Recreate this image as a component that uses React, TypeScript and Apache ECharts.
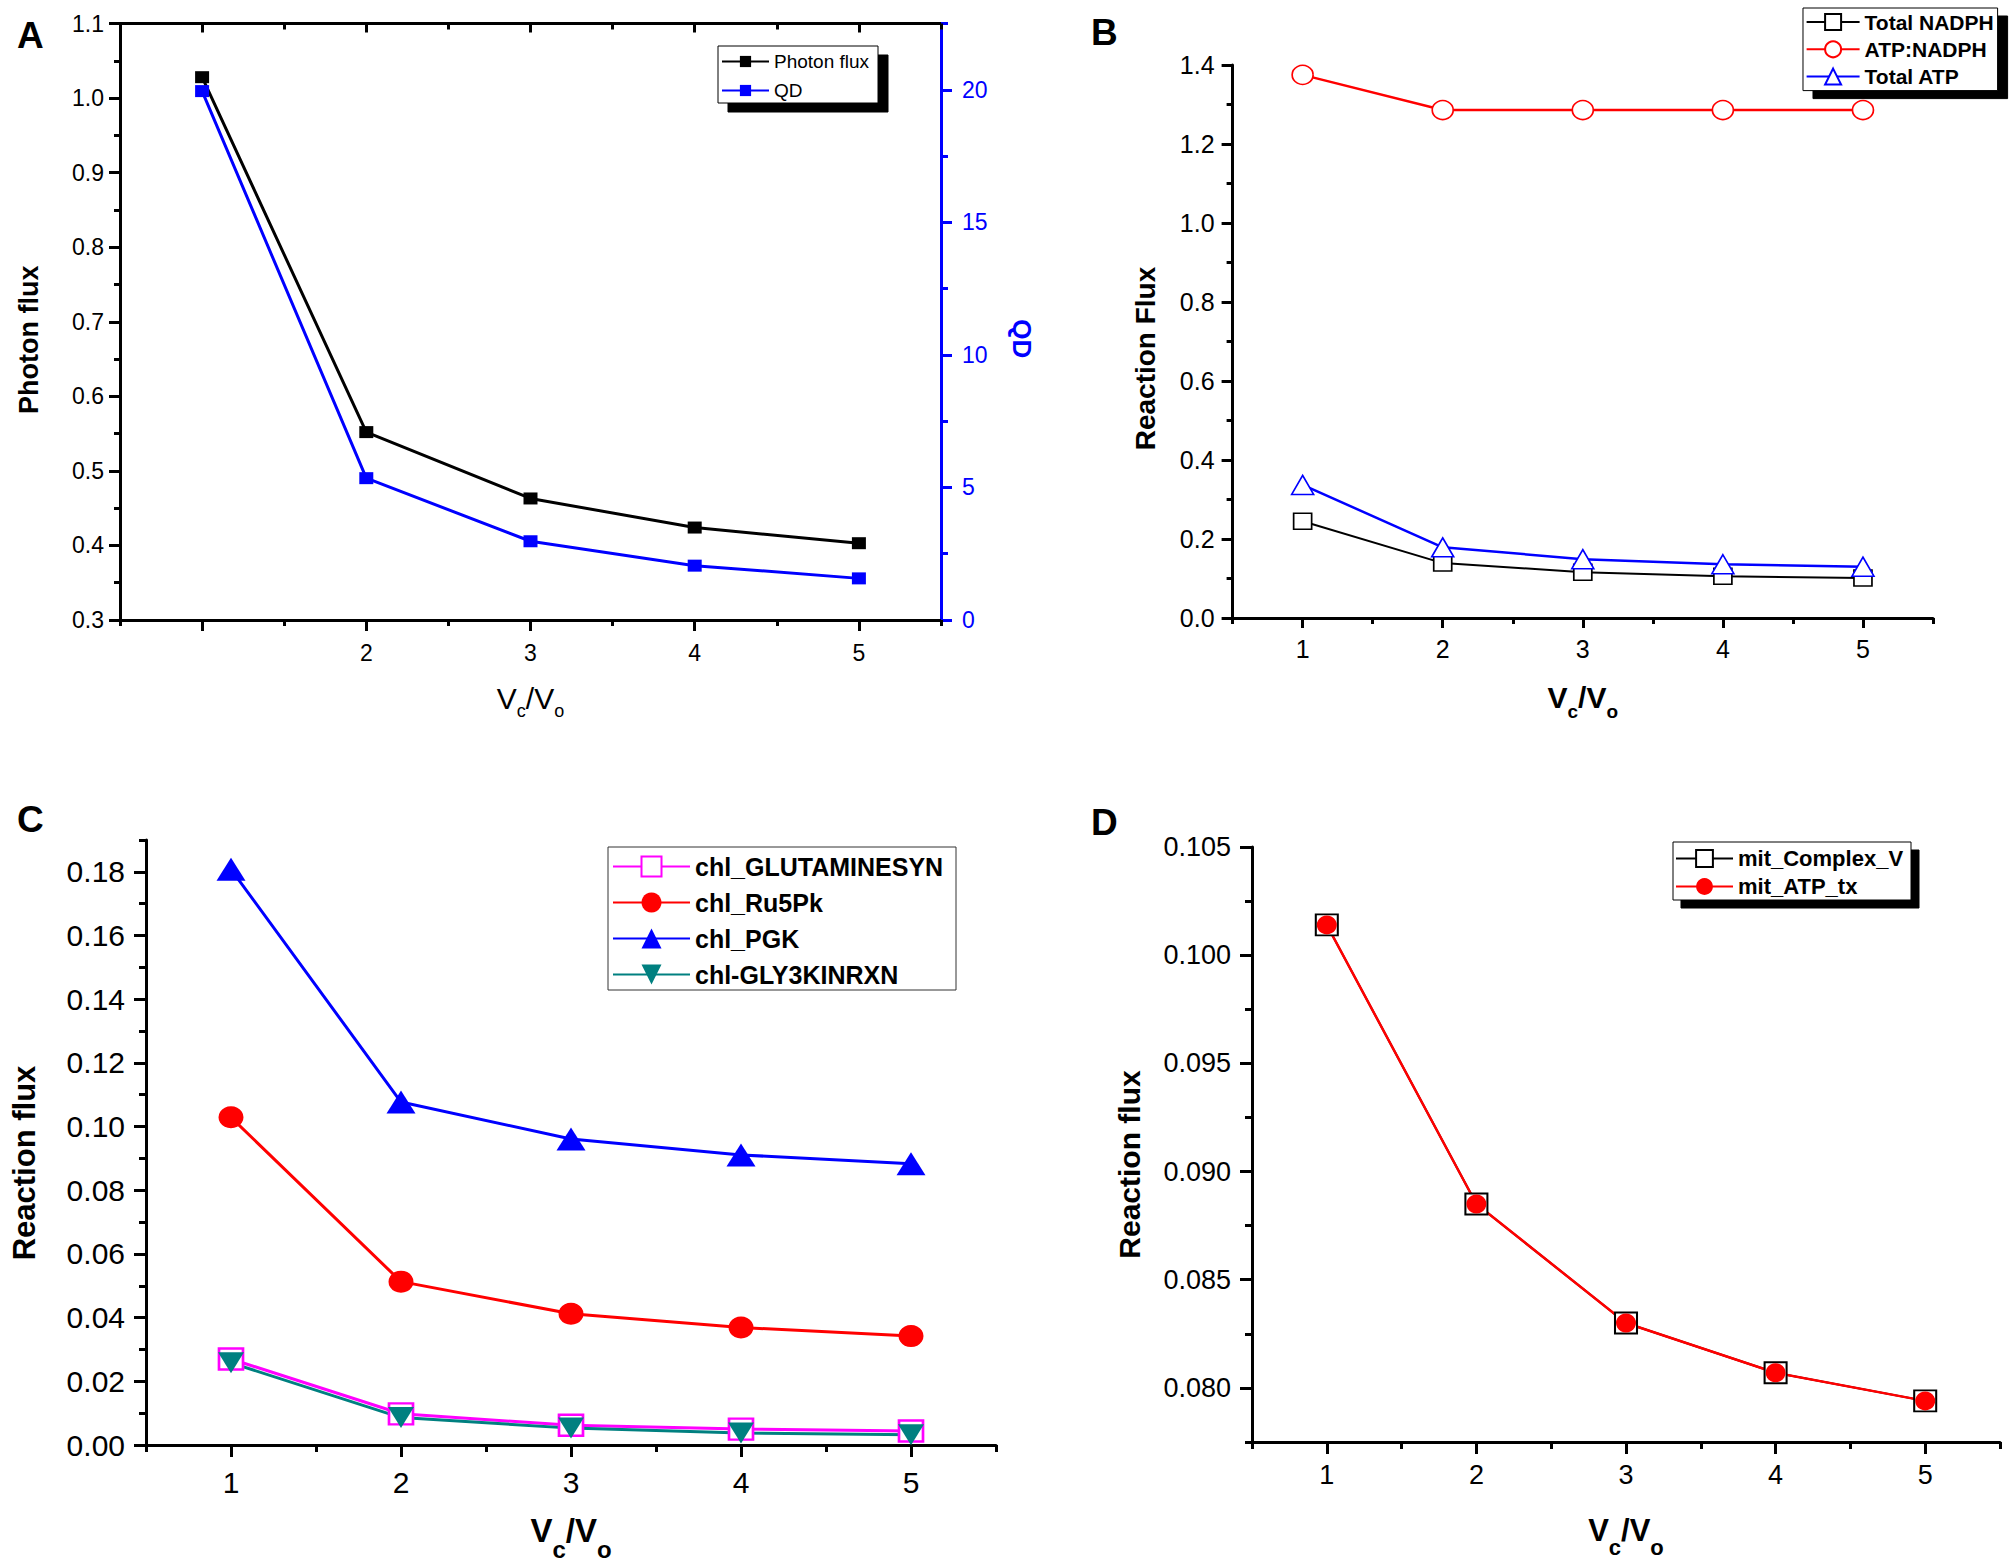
import React, { useEffect, useRef } from "react";
import * as echarts from "echarts";

const FONT = "'Liberation Sans', Arial, Helvetica, sans-serif";

// Shared x values (Vc/Vo)
const VC_VO = [1, 2, 3, 4, 5];

// Panel A
const PHOTON_FLUX = [1.028, 0.552, 0.463, 0.424, 0.403];
const QD_VALUES = [19.95, 5.35, 2.97, 2.05, 1.57];

// Panel B
const TOTAL_NADPH = [0.245, 0.139, 0.116, 0.106, 0.101];
const ATP_NADPH = [1.375, 1.286, 1.286, 1.286, 1.286];
const TOTAL_ATP = [0.337, 0.179, 0.149, 0.136, 0.13];

// Panel C
const CHL_GLUTAMINESYN = [0.027, 0.0098, 0.0062, 0.005, 0.0044];
const CHL_RU5PK = [0.1029, 0.0513, 0.0412, 0.0369, 0.0342];
const CHL_PGK = [0.1808, 0.1077, 0.0961, 0.0911, 0.0883];
const CHL_GLY3KINRXN = [0.0258, 0.0086, 0.0053, 0.0038, 0.0032];

// Panel D
const MIT_COMPLEX_V = [0.1014, 0.0885, 0.083, 0.0807, 0.0794];
const MIT_ATP_TX = [0.1014, 0.0885, 0.083, 0.0807, 0.0794];

// Tick values
const X_MAJOR = [1, 2, 3, 4, 5];
const X_MINOR = [0.5, 1.5, 2.5, 3.5, 4.5, 5.5];
const A_X_LABELS = [2, 3, 4, 5];
const A_Y_MAJOR = [0.3, 0.4, 0.5, 0.6, 0.7, 0.8, 0.9, 1.0, 1.1];
const A_Y_MINOR = [0.35, 0.45, 0.55, 0.65, 0.75, 0.85, 0.95, 1.05];
const A_QD_MAJOR = [0, 5, 10, 15, 20];
const A_QD_MINOR = [2.5, 7.5, 12.5, 17.5, 22.5];
const B_Y_MAJOR = [0, 0.2, 0.4, 0.6, 0.8, 1.0, 1.2, 1.4];
const B_Y_MINOR = [0.1, 0.3, 0.5, 0.7, 0.9, 1.1, 1.3];
const C_Y_MAJOR = [0, 0.02, 0.04, 0.06, 0.08, 0.1, 0.12, 0.14, 0.16, 0.18];
const C_Y_MINOR = [0.01, 0.03, 0.05, 0.07, 0.09, 0.11, 0.13, 0.15, 0.17, 0.19];
const D_Y_MAJOR = [0.08, 0.085, 0.09, 0.095, 0.1, 0.105];
const D_Y_MINOR = [0.0775, 0.0825, 0.0875, 0.0925, 0.0975, 0.1025];

const BLACK = "#000000";
const BLUE = "#0000FF";
const RED = "#FF0000";
const MAGENTA = "#FF00FF";
const TEAL = "#008080";

const AXIS_W = 3;

const pts = (ys: number[]) => VC_VO.map((x, i) => [x, ys[i]]);

function axis(o: any) {
  const ax: any = {
    type: "value",
    gridIndex: o.grid,
    position: o.position,
    min: o.min,
    max: o.max,
    silent: true,
    axisLine: {
      show: o.line !== false,
      onZero: false,
      lineStyle: { color: o.color || BLACK, width: AXIS_W },
    },
    axisTick: {
      show: true,
      inside: !!o.inside,
      customValues: o.ticks,
      length: o.tickLen,
      lineStyle: { color: o.color || BLACK, width: AXIS_W },
    },
    axisLabel: o.labels
      ? {
          show: true,
          customValues: o.labels,
          fontSize: o.fontSize,
          margin: o.margin,
          color: o.color || BLACK,
          fontFamily: FONT,
          formatter: o.fmt,
        }
      : { show: false },
    splitLine: { show: false },
    minorTick: { show: false },
    minorSplitLine: { show: false },
  };
  if (o.name) {
    ax.name = o.name;
    ax.nameLocation = "middle";
    ax.nameGap = o.nameGap;
    if (o.nameRotate !== undefined) ax.nameRotate = o.nameRotate;
    ax.nameTextStyle = o.nameTextStyle;
  }
  return ax;
}

function vcvo(vSize: number, sSize: number, lh: number, bold: boolean) {
  const w = bold ? "bold" : "normal";
  return {
    name: "{v|V}{s|c}{v|/V}{s|o}",
    nameTextStyle: {
      rich: {
        v: { fontSize: vSize, lineHeight: lh, fontWeight: w, fontFamily: FONT, color: BLACK },
        s: {
          fontSize: sSize,
          lineHeight: sSize,
          verticalAlign: "bottom",
          fontWeight: w,
          fontFamily: FONT,
          color: BLACK,
        },
      },
    },
  };
}

function yName(text: string, size: number, shift: number, color = BLACK) {
  return {
    name: text,
    nameTextStyle: {
      fontSize: size,
      fontWeight: "bold",
      fontFamily: FONT,
      color,
      padding: [0, shift, 0, 0],
    },
  };
}

function line(
  name: string,
  data: number[],
  xi: number,
  yi: number,
  color: string,
  symbol: string,
  size: any,
  o: any = {}
) {
  return {
    type: "line",
    name,
    xAxisIndex: xi,
    yAxisIndex: yi,
    data: pts(data),
    symbol,
    symbolSize: size,
    symbolRotate: o.rotate || 0,
    showSymbol: true,
    lineStyle: { color, width: o.lw ?? 2.5 },
    itemStyle: o.hollow
      ? { color: "#ffffff", borderColor: color, borderWidth: o.bw ?? 2, opacity: 1 }
      : { color, borderWidth: 0, opacity: 1 },
    emphasis: { disabled: true },
    animation: false,
  };
}

function legend(o: any) {
  return {
    data: o.data,
    left: o.left,
    top: o.top,
    orient: "vertical",
    padding: o.padding,
    itemWidth: o.itemWidth,
    itemHeight: o.itemHeight,
    itemGap: o.itemGap,
    backgroundColor: "#ffffff",
    borderColor: o.borderColor || BLACK,
    borderWidth: 1,
    shadowColor: o.shadow ? "#000000" : "transparent",
    shadowOffsetX: o.shadow ? o.shadow[0] : 0,
    shadowOffsetY: o.shadow ? o.shadow[1] : 0,
    shadowBlur: 0,
    selectedMode: false,
    textStyle: {
      fontSize: o.fontSize,
      fontWeight: o.bold ? "bold" : "normal",
      fontFamily: FONT,
      color: BLACK,
      lineHeight: o.itemHeight,
      width: o.textWidth,
      overflow: "none",
    },
  };
}

function buildOption(): any {
  const f1 = (v: number) => v.toFixed(1);
  const f2 = (v: number) => v.toFixed(2);
  const f3 = (v: number) => v.toFixed(3);
  const fi = (v: number) => String(v);

  const xAxis = [
    // A (0-3)
    axis({
      grid: 0, position: "bottom", min: 0.5, max: 5.5, ticks: X_MAJOR, tickLen: 11,
      labels: A_X_LABELS, fontSize: 23, margin: 21, fmt: fi,
      ...vcvo(30, 18, 44, false), nameGap: 56,
    }),
    axis({ grid: 0, position: "bottom", min: 0.5, max: 5.5, ticks: X_MINOR, tickLen: 6, line: false }),
    axis({ grid: 0, position: "top", min: 0.5, max: 5.5, ticks: X_MAJOR, tickLen: 9, inside: true }),
    axis({ grid: 0, position: "top", min: 0.5, max: 5.5, ticks: X_MINOR, tickLen: 6, inside: true, line: false }),
    // B (4-5)
    axis({
      grid: 1, position: "bottom", min: 0.5, max: 5.5, ticks: X_MAJOR, tickLen: 10,
      labels: X_MAJOR, fontSize: 25, margin: 18, fmt: fi,
      ...vcvo(30, 19, 48, true), nameGap: 55,
    }),
    axis({ grid: 1, position: "bottom", min: 0.5, max: 5.5, ticks: X_MINOR, tickLen: 6, line: false }),
    // C (6-7)
    axis({
      grid: 2, position: "bottom", min: 0.5, max: 5.5, ticks: X_MAJOR, tickLen: 12,
      labels: X_MAJOR, fontSize: 30, margin: 22, fmt: fi,
      ...vcvo(33, 24, 62, true), nameGap: 54.5,
    }),
    axis({ grid: 2, position: "bottom", min: 0.5, max: 5.5, ticks: X_MINOR, tickLen: 7, line: false }),
    // D (8-9)
    axis({
      grid: 3, position: "bottom", min: 0.5, max: 5.5, ticks: X_MAJOR, tickLen: 12,
      labels: X_MAJOR, fontSize: 27, margin: 19, fmt: fi,
      ...vcvo(31, 22, 56, true), nameGap: 60,
    }),
    axis({ grid: 3, position: "bottom", min: 0.5, max: 5.5, ticks: X_MINOR, tickLen: 7, line: false }),
  ];

  const yAxis = [
    // A (0-3)
    axis({
      grid: 0, position: "left", min: 0.3, max: 1.1, ticks: A_Y_MAJOR, tickLen: 11,
      labels: A_Y_MAJOR, fontSize: 23, margin: 16, fmt: f1,
      ...yName("Photon flux", 27, 36), nameGap: 78,
    }),
    axis({ grid: 0, position: "left", min: 0.3, max: 1.1, ticks: A_Y_MINOR, tickLen: 6, line: false }),
    axis({
      grid: 0, position: "right", min: 0, max: 22.5, ticks: A_QD_MAJOR, tickLen: 11, color: BLUE,
      labels: A_QD_MAJOR, fontSize: 23, margin: 21, fmt: fi,
      name: "QD", nameGap: 68, nameRotate: -90,
      nameTextStyle: {
        fontSize: 26, fontWeight: "bold", fontFamily: FONT, color: BLUE, padding: [0, 0, 0, 34],
      },
    }),
    axis({ grid: 0, position: "right", min: 0, max: 22.5, ticks: A_QD_MINOR, tickLen: 7, color: BLUE, line: false }),
    // B (4-5)
    axis({
      grid: 1, position: "left", min: 0, max: 1.4, ticks: B_Y_MAJOR, tickLen: 11,
      labels: B_Y_MAJOR, fontSize: 25, margin: 18, fmt: f1,
      ...yName("Reaction Flux", 28, 34), nameGap: 73,
    }),
    axis({ grid: 1, position: "left", min: 0, max: 1.4, ticks: B_Y_MINOR, tickLen: 6, line: false }),
    // C (6-7)
    axis({
      grid: 2, position: "left", min: 0, max: 0.19, ticks: C_Y_MAJOR, tickLen: 12,
      labels: C_Y_MAJOR, fontSize: 30, margin: 21, fmt: f2,
      ...yName("Reaction flux", 31, 41), nameGap: 106,
    }),
    axis({ grid: 2, position: "left", min: 0, max: 0.19, ticks: C_Y_MINOR, tickLen: 7, line: false }),
    // D (8-9)
    axis({
      grid: 3, position: "left", min: 0.0775, max: 0.105, ticks: D_Y_MAJOR, tickLen: 12,
      labels: D_Y_MAJOR, fontSize: 27, margin: 21, fmt: f3,
      ...yName("Reaction flux", 30, 40), nameGap: 108,
    }),
    axis({ grid: 3, position: "left", min: 0.0775, max: 0.105, ticks: D_Y_MINOR, tickLen: 7, line: false }),
  ];

  const series = [
    // A
    line("Photon flux", PHOTON_FLUX, 0, 0, BLACK, "rect", [14, 12], { lw: 3 }),
    line("QD", QD_VALUES, 0, 2, BLUE, "rect", [14, 12], { lw: 3 }),
    // B
    line("Total NADPH", TOTAL_NADPH, 4, 4, BLACK, "rect", [18, 16], { hollow: true, bw: 1.6, lw: 2 }),
    line("ATP:NADPH", ATP_NADPH, 4, 4, RED, "circle", [21, 19], { hollow: true, bw: 1.6, lw: 2.5 }),
    line("Total ATP", TOTAL_ATP, 4, 4, BLUE, "triangle", [22, 19], { hollow: true, bw: 1.6, lw: 2.5 }),
    // C
    line("chl_GLUTAMINESYN", CHL_GLUTAMINESYN, 6, 6, MAGENTA, "rect", [24, 21], { hollow: true, bw: 2.5, lw: 3 }),
    line("chl_Ru5Pk", CHL_RU5PK, 6, 6, RED, "circle", [25, 22], { lw: 3 }),
    line("chl_PGK", CHL_PGK, 6, 6, BLUE, "triangle", [29, 23], { lw: 3 }),
    line("chl-GLY3KINRXN", CHL_GLY3KINRXN, 6, 6, TEAL, "triangle", [26, 21], { lw: 3, rotate: 180 }),
    // D
    line("mit_Complex_V", MIT_COMPLEX_V, 8, 8, BLACK, "rect", [22, 21], { hollow: true, bw: 2, lw: 2 }),
    line("mit_ATP_tx", MIT_ATP_TX, 8, 8, RED, "circle", [20, 19], { lw: 2.5 }),
  ];

  const titleStyle = { fontSize: 37, fontWeight: "bold", fontFamily: FONT, color: BLACK };

  return {
    animation: false,
    backgroundColor: "#ffffff",
    title: [
      { text: "A", left: 17, top: 17, padding: 0, textStyle: titleStyle },
      { text: "B", left: 1091, top: 14, padding: 0, textStyle: titleStyle },
      { text: "C", left: 17, top: 801, padding: 0, textStyle: titleStyle },
      { text: "D", left: 1091, top: 804, padding: 0, textStyle: titleStyle },
    ],
    grid: [
      { left: 120, top: 23.5, width: 821, height: 596.5, containLabel: false, outerBoundsMode: "none" },
      { left: 1232.6, top: 65, width: 700.4, height: 553, containLabel: false, outerBoundsMode: "none" },
      { left: 146, top: 840, width: 850, height: 605, containLabel: false, outerBoundsMode: "none" },
      { left: 1252, top: 847, width: 748, height: 595, containLabel: false, outerBoundsMode: "none" },
    ],
    legend: [
      legend({
        data: ["Photon flux", "QD"], left: 718, top: 46, padding: [6, 4, 3, 3],
        itemWidth: 47, itemHeight: 14, itemGap: 10, fontSize: 19, bold: false, textWidth: 100,
        shadow: [10, 9],
      }),
      legend({
        data: ["Total NADPH", "ATP:NADPH", "Total ATP"], left: 1803, top: 8, padding: [3.5, 1, 3.5, 2.6],
        itemWidth: 53, itemHeight: 20, itemGap: 6.3, fontSize: 21, bold: true, textWidth: 132,
        shadow: [10, 8],
      }),
      legend({
        data: ["chl_GLUTAMINESYN", "chl_Ru5Pk", "chl_PGK", "chl-GLY3KINRXN"], left: 608, top: 847,
        padding: [7, 2, 3, 4], itemWidth: 77, itemHeight: 25, itemGap: 11, fontSize: 25, bold: true,
        textWidth: 259, borderColor: "#333333",
      }),
      legend({
        data: ["mit_Complex_V", "mit_ATP_tx"], left: 1673, top: 842, padding: [5.5, 1, 2.5, 2],
        itemWidth: 57, itemHeight: 21, itemGap: 6, fontSize: 22, bold: true, textWidth: 172,
        shadow: [8, 8],
      }),
    ],
    tooltip: { show: false },
    xAxis,
    yAxis,
    series,
  };
}

export default function App() {
  const ref = useRef<HTMLDivElement>(null);
  useEffect(() => {
    if (!ref.current) return;
    const chart = echarts.init(ref.current, null, { renderer: "svg", width: 2013, height: 1563 });
    chart.setOption(buildOption());
    return () => {
      chart.dispose();
    };
  }, []);
  return (
    <div
      ref={ref}
      style={{ position: "absolute", left: 0, top: 0, width: 2013, height: 1563, background: "#ffffff" }}
    />
  );
}
